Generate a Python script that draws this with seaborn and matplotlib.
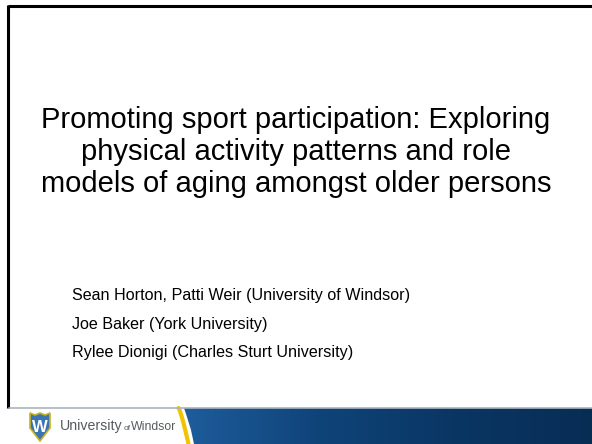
import numpy as np
import seaborn as sns
import matplotlib.pyplot as plt
from matplotlib.patches import Polygon
from matplotlib.colors import LinearSegmentedColormap

sns.set_style("white")
plt.rcParams['font.family'] = ['Liberation Sans', 'DejaVu Sans']

# Textos de la diapositiva
title_lines = ['Promoting sport participation: Exploring',
               'physical activity patterns and role',
               'models of aging amongst older persons']
author_lines = ['Sean Horton, Patti Weir (University of Windsor)',
                'Joe Baker (York University)',
                'Rylee Dionigi (Charles Sturt University)']
footer_uni = 'University'
footer_of = 'of'
footer_city = 'Windsor'

W, H = 592, 444
fig = plt.figure(figsize=(W / 100, H / 100), dpi=100)
ax = fig.add_axes([0, 0, 1, 1])
ax.set_xlim(0, W)
ax.set_ylim(H, 0)
ax.axis('off')

# Borde negro (arriba e izquierda)
ax.plot([8, W], [6, 6], color='black', lw=2.2, solid_capstyle='butt')
ax.plot([8, 8], [5.2, 408], color='black', lw=2.2, solid_capstyle='butt')

# Título
for i, line in enumerate(title_lines):
    ax.text(W / 2, 128 + i * 32, line, ha='center', va='baseline',
            fontsize=21, color='black')

# Autores
for i, line in enumerate(author_lines):
    ax.text(72, 300 + i * 28.5, line, ha='left', va='baseline',
            fontsize=11.6, color='black')

# Pie: franja azul con degradado
grad = np.linspace(0, 1, 256).reshape(1, -1)
cmap = LinearSegmentedColormap.from_list('uw', ['#1f5d9d', '#0f4479', '#0a3664', '#082d55'])
img = ax.imshow(grad, extent=[180, W, H, 408], cmap=cmap, aspect='auto', zorder=1)
verts = [(184, 408), (W, 408), (W, H), (194, H), (191, 430), (187, 417), (184, 408)]
clip = Polygon(verts, closed=True, transform=ax.transData)
img.set_clip_path(clip)

# Curva amarilla
ys = np.linspace(408, H, 50)
xs = 178.5 + 10 * ((ys - 408) / (H - 408)) ** 0.8
ax.plot(xs, ys, color='#f0c400', lw=3.0, zorder=2)

# Línea gris superior del pie
ax.plot([9, W], [408, 408], color='#aab4c0', lw=1.2, zorder=3)

# Escudo
shield = Polygon([(30, 413), (35, 415), (40, 413), (45, 415), (50, 413),
                  (50, 428), (40, 441), (30, 428)],
                 closed=True, facecolor='#3a74b2', edgecolor='#c8b420', lw=1.2, zorder=3)
ax.add_patch(shield)
ax.text(40, 427, 'W', ha='center', va='center', fontsize=12, fontweight='bold',
        color='white', zorder=4)

# Nombre de la universidad
ax.text(60, 430, footer_uni, ha='left', va='baseline', fontsize=10.2, color='#555a60')
ax.text(123.5, 430, footer_of, ha='left', va='baseline', fontsize=6, color='#555a60')
ax.text(131, 430, footer_city, ha='left', va='baseline', fontsize=8.8, color='#555a60')

fig.savefig('out.png', dpi=100, facecolor='white')
